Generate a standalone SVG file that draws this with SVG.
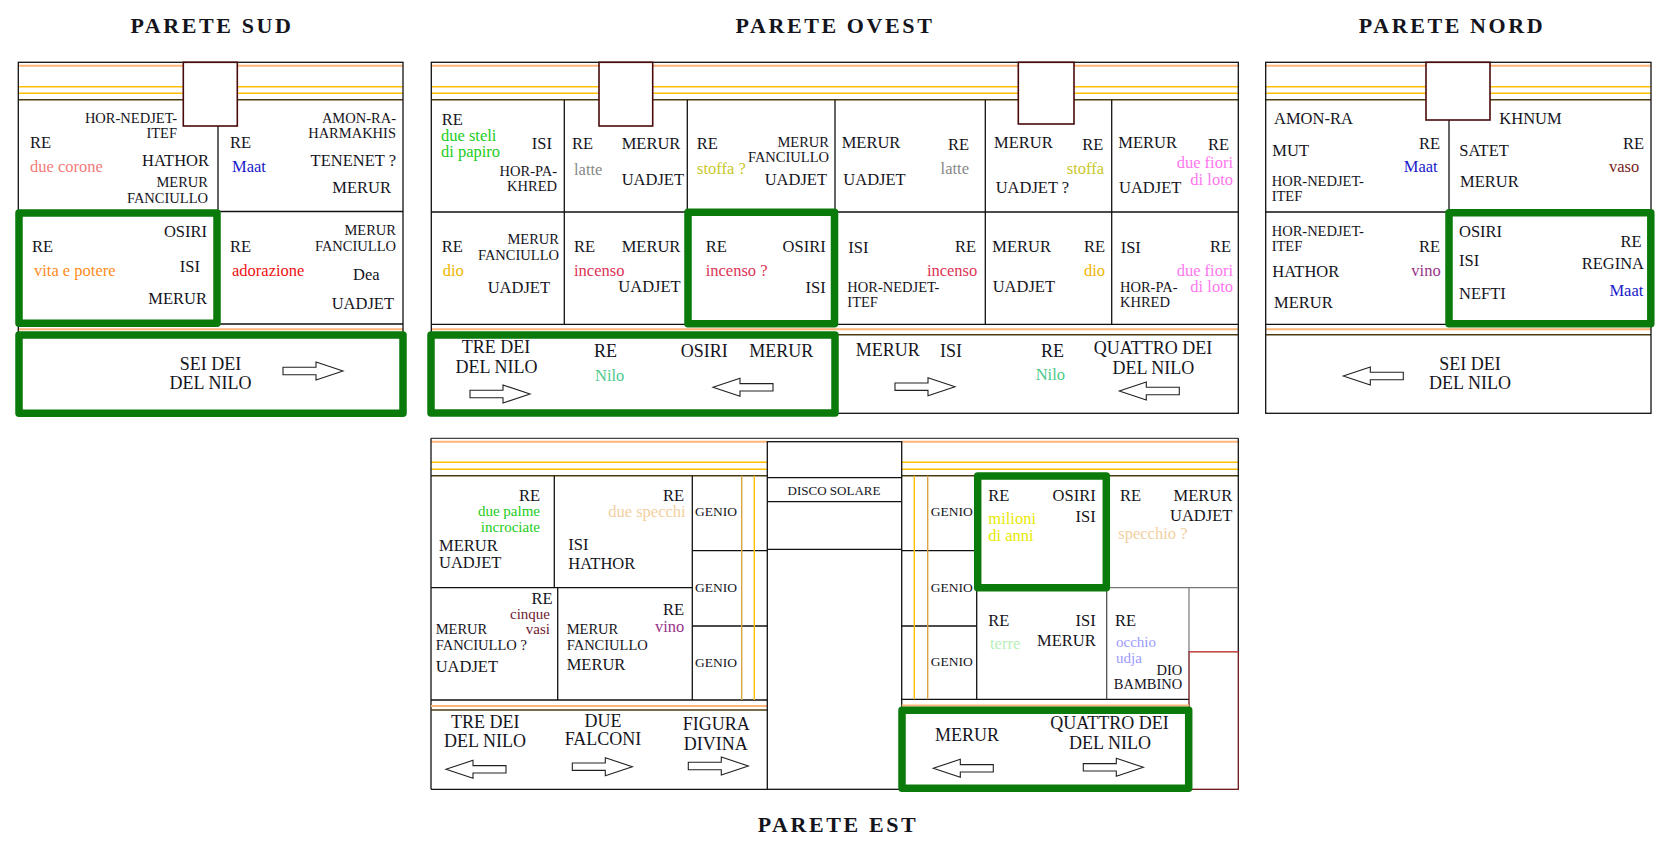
<svg xmlns="http://www.w3.org/2000/svg" width="1673" height="846" viewBox="0 0 1673 846">
<defs>
<style>
text{font-family:"Liberation Serif","Times New Roman",serif;fill:#14141c}
.t{font-size:16.5px}
.q{font-size:15px}
.s{font-size:14.5px}
.b{font-size:18px}
.g{font-size:13.5px}
.d{font-size:13px}
.ti{font-size:22px;font-weight:bold;letter-spacing:2.6px}
.e{text-anchor:end}
.m{text-anchor:middle}
.ln{stroke:#111;stroke-width:1.3;fill:none}
.lg{stroke:#777;stroke-width:1.2;fill:none}
.pk{stroke:#ffb577;stroke-width:2}
.gd{stroke:#ffbf00;stroke-width:1.4}
.gd2{stroke:#d9a441;stroke-width:1.4}
.dk{stroke:#4a3c10;stroke-width:1.6}
.cb{fill:#fff;stroke:#4a0a0a;stroke-width:1.6}
.gr{fill:none;stroke:#0a7a0a;stroke-width:7.5;stroke-linejoin:round}
.ar{fill:#fff;stroke:#222;stroke-width:1.1}
.c-pink{fill:#f37b7b}.c-blue{fill:#1a1acc}.c-org{fill:#ff8c1a}.c-red{fill:#ee1111}
.c-grn{fill:#22cc22}.c-gray{fill:#888}.c-ylw{fill:#c8c82a}.c-gold{fill:#f0b400}
.c-crim{fill:#dd3355}.c-vio{fill:#ff77ee}.c-vaso{fill:#772222}.c-vino{fill:#993388}
.c-peach{fill:#f3cfa0}.c-mar{fill:#702030}.c-yel{fill:#e8e800}.c-lgr{fill:#b8f0b8}
.c-lav{fill:#9a9aff}.c-nilo{fill:#4cc98a}
</style>
<path id="aR" d="M0,-3.7 H33 V-9 L60,0 L33,9 V3.7 H0 Z"/>
<path id="aL" d="M60,-3.7 H27 V-9 L0,0 L27,9 V3.7 H60 Z"/>
</defs>
<rect width="1673" height="846" fill="#fff"/>

<g id="titles">
<text class="ti m" x="212" y="33.3">PARETE SUD</text>
<text class="ti m" x="835" y="33.3">PARETE OVEST</text>
<text class="ti m" x="1452" y="33.3">PARETE NORD</text>
<text class="ti m" x="838" y="832.3">PARETE EST</text>
</g>

<!-- ================= PARETE SUD ================= -->
<g id="sud">
<g id="sud-frame">
<line class="pk" x1="18" y1="65.7" x2="403" y2="65.7"/>
<line class="gd" x1="18" y1="86.7" x2="403" y2="86.7"/>
<line class="gd" x1="18" y1="93.3" x2="403" y2="93.3"/>
<line class="dk" x1="18" y1="99.8" x2="403" y2="99.8"/>
<line class="pk" x1="18" y1="329.3" x2="403" y2="329.3"/>
<line class="dk" x1="18" y1="334.8" x2="403" y2="334.8"/>
<rect class="ln" x="18.3" y="62.3" width="384.7" height="351"/>
<line class="ln" x1="18" y1="211.5" x2="403" y2="211.5"/>
<line class="ln" x1="18" y1="324" x2="403" y2="324"/>
<line class="ln" x1="218" y1="126" x2="218" y2="324"/>
<rect class="cb" x="183.3" y="62.3" width="54" height="63.7"/>
</g>
<g id="sud-c1">
<text class="s e" x="177" y="122.7">HOR-NEDJET-</text>
<text class="s e" x="177" y="138">ITEF</text>
<text class="t" x="30" y="147.7">RE</text>
<text class="t c-pink" x="30" y="171.7">due corone</text>
<text class="t e" x="209" y="165.7">HATHOR</text>
<text class="s e" x="208" y="186.7">MERUR</text>
<text class="s e" x="208" y="202.7">FANCIULLO</text>
</g>
<g id="sud-c2">
<text class="t" x="230" y="147.7">RE</text>
<text class="t c-blue" x="232" y="171.7">Maat</text>
<text class="s e" x="396" y="122.7">AMON-RA-</text>
<text class="s e" x="396" y="138">HARMAKHIS</text>
<text class="t e" x="396" y="165.7">TENENET ?</text>
<text class="t e" x="391" y="193">MERUR</text>
</g>
<g id="sud-c3">
<rect class="gr" x="19" y="213" width="198" height="110.3"/>
<text class="t e" x="207" y="236.7">OSIRI</text>
<text class="t" x="32" y="252">RE</text>
<text class="t c-org" x="34" y="275.7">vita e potere</text>
<text class="t e" x="200" y="271.7">ISI</text>
<text class="t e" x="207" y="304">MERUR</text>
</g>
<g id="sud-c4">
<text class="s e" x="396" y="235">MERUR</text>
<text class="s e" x="396" y="250.7">FANCIULLO</text>
<text class="t" x="230" y="252">RE</text>
<text class="t c-red" x="232" y="275.7">adorazione</text>
<text class="t" x="353" y="280">Dea</text>
<text class="t e" x="394" y="309">UADJET</text>
</g>
<g id="sud-band">
<rect class="gr" x="19" y="335" width="384" height="78.3"/>
<text class="b m" x="210.5" y="370">SEI DEI</text>
<text class="b m" x="210.5" y="389">DEL NILO</text>
<use href="#aR" class="ar" x="283" y="371"/>
</g>
</g>

<!-- ================= PARETE OVEST ================= -->
<g id="ovest">
<g id="ovest-frame">
<line class="pk" x1="431" y1="65.7" x2="1238" y2="65.7"/>
<line class="gd" x1="431" y1="86.7" x2="1238" y2="86.7"/>
<line class="gd" x1="431" y1="93.3" x2="1238" y2="93.3"/>
<line class="dk" x1="431" y1="99.8" x2="1238" y2="99.8"/>
<line class="pk" x1="431" y1="329.3" x2="1238" y2="329.3"/>
<line class="dk" x1="431" y1="334.8" x2="1238" y2="334.8"/>
<rect class="ln" x="431.3" y="62.3" width="807" height="351"/>
<line class="ln" x1="431" y1="212" x2="1238" y2="212"/>
<line class="ln" x1="431" y1="324.3" x2="1238" y2="324.3"/>
<line class="ln" x1="564.3" y1="100" x2="564.3" y2="324.3"/>
<line class="ln" x1="687.3" y1="100" x2="687.3" y2="324.3"/>
<line class="ln" x1="835" y1="100" x2="835" y2="324.3"/>
<line class="ln" x1="985.3" y1="100" x2="985.3" y2="324.3"/>
<line class="ln" x1="1111.7" y1="100" x2="1111.7" y2="324.3"/>
<rect class="cb" x="599" y="62.3" width="53.7" height="63.7"/>
<rect class="cb" x="1018.3" y="62.3" width="55.7" height="61.7"/>
</g>
<g id="ovest-c1">
<text class="t" x="441.7" y="125">RE</text>
<text class="t c-grn" x="441" y="140.7">due steli</text>
<text class="t c-grn" x="441" y="157">di papiro</text>
<text class="t e" x="552" y="149">ISI</text>
<text class="s e" x="557" y="175.7">HOR-PA-</text>
<text class="s e" x="557" y="190.7">KHRED</text>
</g>
<g id="ovest-c2">
<text class="t" x="572" y="149">RE</text>
<text class="t" x="621.7" y="149">MERUR</text>
<text class="t c-gray" x="574" y="175">latte</text>
<text class="t" x="621.7" y="185">UADJET</text>
</g>
<g id="ovest-c3">
<text class="t" x="696.7" y="149">RE</text>
<text class="s e" x="829" y="146.7">MERUR</text>
<text class="s e" x="829" y="161.7">FANCIULLO</text>
<text class="t c-ylw" x="697" y="174.3">stoffa ?</text>
<text class="t e" x="827" y="185">UADJET</text>
</g>
<g id="ovest-c4">
<text class="t" x="841.7" y="148.3">MERUR</text>
<text class="t e" x="969" y="150">RE</text>
<text class="t c-gray e" x="969" y="174.3">latte</text>
<text class="t" x="843.3" y="185">UADJET</text>
</g>
<g id="ovest-c5">
<text class="t" x="994" y="148.3">MERUR</text>
<text class="t e" x="1103.3" y="150">RE</text>
<text class="t c-ylw e" x="1104" y="174.3">stoffa</text>
<text class="t" x="995.7" y="193.3">UADJET ?</text>
</g>
<g id="ovest-c6">
<text class="t" x="1118.3" y="148.3">MERUR</text>
<text class="t e" x="1229" y="150">RE</text>
<text class="t c-vio e" x="1233" y="168.3">due fiori</text>
<text class="t c-vio e" x="1233" y="185">di loto</text>
<text class="t" x="1119" y="193.3">UADJET</text>
</g>
<g id="ovest-c7">
<text class="t" x="441.7" y="252">RE</text>
<text class="s e" x="559" y="244">MERUR</text>
<text class="s e" x="559" y="260">FANCIULLO</text>
<text class="t c-gold" x="442.7" y="275.7">dio</text>
<text class="t e" x="550" y="292.7">UADJET</text>
</g>
<g id="ovest-c8">
<text class="t" x="574" y="252">RE</text>
<text class="t" x="621.7" y="252">MERUR</text>
<text class="t c-crim" x="574" y="275.7">incenso</text>
<text class="t e" x="680.7" y="291.7">UADJET</text>
</g>
<g id="ovest-c9">
<rect class="gr" x="688" y="212.3" width="146.5" height="111.4"/>
<text class="t" x="705.7" y="252">RE</text>
<text class="t e" x="825.7" y="251.7">OSIRI</text>
<text class="t c-crim" x="705.7" y="275.7">incenso ?</text>
<text class="t e" x="825.7" y="292.7">ISI</text>
</g>
<g id="ovest-c10">
<text class="t" x="848.3" y="253.3">ISI</text>
<text class="t e" x="976" y="252">RE</text>
<text class="t c-crim e" x="977.3" y="275.7">incenso</text>
<text class="s" x="847.3" y="291.7">HOR-NEDJET-</text>
<text class="s" x="847.3" y="307.3">ITEF</text>
</g>
<g id="ovest-c11">
<text class="t" x="992.3" y="252">MERUR</text>
<text class="t e" x="1105" y="252">RE</text>
<text class="t c-gold e" x="1105" y="275.7">dio</text>
<text class="t" x="992.7" y="291.7">UADJET</text>
</g>
<g id="ovest-c12">
<text class="t" x="1120.7" y="253.3">ISI</text>
<text class="t e" x="1231" y="252">RE</text>
<text class="t c-vio e" x="1233" y="275.7">due fiori</text>
<text class="t c-vio e" x="1233" y="291.7">di loto</text>
<text class="s" x="1120" y="291.7">HOR-PA-</text>
<text class="s" x="1120" y="307.3">KHRED</text>
</g>
<g id="ovest-band1">
<rect class="gr" x="431" y="335" width="404" height="78"/>
<text class="b m" x="496" y="353.3">TRE DEI</text>
<text class="b m" x="496.5" y="372.7">DEL NILO</text>
<use href="#aR" class="ar" x="470" y="394"/>
<text class="b" x="594" y="356.7">RE</text>
<text class="t c-nilo" x="595" y="380.7">Nilo</text>
<text class="b" x="680.7" y="356.7">OSIRI</text>
<text class="b" x="749.3" y="356.7">MERUR</text>
<use href="#aL" class="ar" x="713" y="387.3"/>
</g>
<g id="ovest-band2">
<text class="b" x="855.7" y="356">MERUR</text>
<text class="b" x="940" y="356.7">ISI</text>
<use href="#aR" class="ar" x="895" y="386.7"/>
<text class="b" x="1041" y="356.7">RE</text>
<text class="t c-nilo" x="1035.7" y="380">Nilo</text>
<text class="b m" x="1153" y="354">QUATTRO DEI</text>
<text class="b m" x="1153.3" y="374">DEL NILO</text>
<use href="#aL" class="ar" x="1119.3" y="391"/>
</g>
</g>

<!-- ================= PARETE NORD ================= -->
<g id="nord">
<g id="nord-frame">
<line class="pk" x1="1266" y1="65.7" x2="1651" y2="65.7"/>
<line class="gd" x1="1266" y1="86.7" x2="1651" y2="86.7"/>
<line class="gd" x1="1266" y1="93.3" x2="1651" y2="93.3"/>
<line class="dk" x1="1266" y1="99.8" x2="1651" y2="99.8"/>
<line class="pk" x1="1266" y1="329.3" x2="1651" y2="329.3"/>
<line class="dk" x1="1266" y1="334.8" x2="1651" y2="334.8"/>
<rect class="ln" x="1265.7" y="62.3" width="385.3" height="351"/>
<line class="ln" x1="1266" y1="212" x2="1651" y2="212"/>
<line class="ln" x1="1266" y1="324.3" x2="1449" y2="324.3"/>
<line class="ln" x1="1449" y1="120" x2="1449" y2="324.3"/>
<rect class="cb" x="1426" y="62.3" width="64" height="57.7"/>
</g>
<g id="nord-c1">
<text class="t" x="1274" y="124">AMON-RA</text>
<text class="t" x="1272.3" y="155.7">MUT</text>
<text class="t e" x="1440" y="149">RE</text>
<text class="t c-blue e" x="1437.7" y="171.7">Maat</text>
<text class="s" x="1271.7" y="185.7">HOR-NEDJET-</text>
<text class="s" x="1271.7" y="200.7">ITEF</text>
</g>
<g id="nord-c2">
<text class="t" x="1499.3" y="124">KHNUM</text>
<text class="t" x="1459.3" y="155.7">SATET</text>
<text class="t e" x="1644" y="149">RE</text>
<text class="t c-vaso e" x="1639.3" y="171.7">vaso</text>
<text class="t" x="1460" y="186.7">MERUR</text>
</g>
<g id="nord-c3">
<text class="s" x="1271.7" y="235.7">HOR-NEDJET-</text>
<text class="s" x="1271.7" y="250.7">ITEF</text>
<text class="t e" x="1440" y="252">RE</text>
<text class="t" x="1272.3" y="276.7">HATHOR</text>
<text class="t c-vino e" x="1440.7" y="275.7">vino</text>
<text class="t" x="1274" y="307.7">MERUR</text>
</g>
<g id="nord-c4">
<rect class="gr" x="1449" y="212.8" width="201.8" height="111"/>
<text class="t" x="1459" y="236.7">OSIRI</text>
<text class="t e" x="1641.7" y="246.7">RE</text>
<text class="t" x="1459" y="266">ISI</text>
<text class="t e" x="1644" y="269">REGINA</text>
<text class="t" x="1459" y="299">NEFTI</text>
<text class="t c-blue e" x="1643.3" y="295.7">Maat</text>
</g>
<g id="nord-band">
<text class="b m" x="1470" y="370">SEI DEI</text>
<text class="b m" x="1470" y="389.3">DEL NILO</text>
<use href="#aL" class="ar" x="1343.3" y="376"/>
</g>
</g>

<!-- ================= PARETE EST ================= -->
<g id="est">
<g id="est-frame">
<line x1="431" y1="438.3" x2="1238.3" y2="438.3" stroke="#444" stroke-width="1.2"/>
<line class="pk" x1="431" y1="441.7" x2="767.3" y2="441.7"/>
<line class="gd" x1="431" y1="462.3" x2="767.3" y2="462.3"/>
<line class="gd" x1="431" y1="469.3" x2="767.3" y2="469.3"/>
<line class="dk" x1="431" y1="475.7" x2="767.3" y2="475.7"/>
<line class="pk" x1="901.7" y1="441.7" x2="1238.3" y2="441.7"/>
<line class="gd" x1="901.7" y1="462.3" x2="1238.3" y2="462.3"/>
<line class="gd" x1="901.7" y1="469.3" x2="1238.3" y2="469.3"/>
<line class="dk" x1="901.7" y1="475.7" x2="1238.3" y2="475.7"/>
<line class="ln" x1="431" y1="438.3" x2="431" y2="789.3"/>
<line class="ln" x1="431" y1="587.7" x2="692.3" y2="587.7"/>
<line class="ln" x1="431" y1="700" x2="767.3" y2="700"/>
<line class="ln" x1="554.3" y1="475.7" x2="554.3" y2="587.7"/>
<line class="ln" x1="557.7" y1="587.7" x2="557.7" y2="700"/>
<line class="ln" x1="692.3" y1="475.7" x2="692.3" y2="700"/>
<line class="ln" x1="692.3" y1="550.7" x2="767.3" y2="550.7"/>
<line class="ln" x1="692.3" y1="626" x2="767.3" y2="626"/>
<line class="gd2" x1="741.7" y1="475.7" x2="741.7" y2="700"/>
<line class="gd" x1="754.3" y1="475.7" x2="754.3" y2="700"/>
<line class="pk" x1="431" y1="706" x2="767.3" y2="706"/>
<line class="dk" x1="431" y1="710" x2="767.3" y2="710"/>
<line class="ln" x1="431" y1="789.3" x2="767.3" y2="789.3"/>
<rect class="ln" x="767.3" y="441.7" width="134.4" height="347.6"/>
<line class="ln" x1="767.3" y1="477.7" x2="901.7" y2="477.7"/>
<line class="ln" x1="767.3" y1="501.7" x2="901.7" y2="501.7"/>
<line class="ln" x1="767.3" y1="549.3" x2="901.7" y2="549.3"/>
<line class="ln" x1="1238.3" y1="438.3" x2="1238.3" y2="651.7"/>
<line class="ln" x1="901.7" y1="550.7" x2="976.7" y2="550.7"/>
<line class="ln" x1="901.7" y1="626" x2="976.7" y2="626"/>
<line class="ln" x1="901.7" y1="699.3" x2="1189" y2="699.3"/>
<line class="gd" x1="914.3" y1="475.7" x2="914.3" y2="699.3"/>
<line class="gd2" x1="927.7" y1="475.7" x2="927.7" y2="699.3"/>
<line class="ln" x1="976.7" y1="475.7" x2="976.7" y2="699.3"/>
<line class="lg" x1="1106" y1="587.7" x2="1238.3" y2="587.7"/>
<line class="ln" x1="976.7" y1="587.7" x2="1106.7" y2="587.7"/>
<line x1="1106.7" y1="587.7" x2="1106.7" y2="699.3" stroke="#444" stroke-width="1.2"/>
<line class="lg" x1="1189" y1="587.7" x2="1189" y2="651.7"/>
<rect x="1189" y="651.7" width="49.3" height="137.6" fill="none" stroke="#6a1515" stroke-width="1.3"/>
<line x1="1189" y1="651.7" x2="1238.3" y2="651.7" stroke="#d04848" stroke-width="1.3"/>
<line class="pk" x1="901.7" y1="705.5" x2="1189" y2="705.5"/>
</g>
<g id="est-a1">
<text class="t e" x="540" y="500.7">RE</text>
<text class="q c-grn e" x="540" y="516">due palme</text>
<text class="q c-grn e" x="540" y="531.7">incrociate</text>
<text class="t" x="439" y="551">MERUR</text>
<text class="t" x="439" y="568.3">UADJET</text>
</g>
<g id="est-a2">
<text class="t e" x="684" y="500.7">RE</text>
<text class="t c-peach e" x="685.7" y="517.3">due specchi</text>
<text class="t" x="568.3" y="550">ISI</text>
<text class="t" x="568.3" y="569.3">HATHOR</text>
</g>
<g id="est-genio-l">
<text class="g" x="695" y="515.7">GENIO</text>
<text class="g" x="695" y="591.7">GENIO</text>
<text class="g" x="695" y="667.3">GENIO</text>
</g>
<g id="est-b1">
<text class="t e" x="552.7" y="603.5">RE</text>
<text class="q c-mar e" x="550" y="618.5">cinque</text>
<text class="q c-mar e" x="550" y="634">vasi</text>
<text class="s" x="435.7" y="634">MERUR</text>
<text class="s" x="435.7" y="650">FANCIULLO ?</text>
<text class="t" x="435.7" y="672.3">UADJET</text>
</g>
<g id="est-b2">
<text class="t e" x="684" y="615">RE</text>
<text class="t c-vino e" x="684.3" y="632.3">vino</text>
<text class="s" x="566.7" y="634">MERUR</text>
<text class="s" x="566.7" y="650">FANCIULLO</text>
<text class="t" x="566.7" y="670">MERUR</text>
</g>
<g id="est-band-l">
<text class="b m" x="485.3" y="727.7">TRE DEI</text>
<text class="b m" x="485" y="747.3">DEL NILO</text>
<use href="#aL" class="ar" x="446" y="769.3"/>
<text class="b m" x="603" y="726.7">DUE</text>
<text class="b m" x="603" y="745">FALCONI</text>
<use href="#aR" class="ar" x="572.3" y="766.7"/>
<text class="b m" x="716.2" y="730">FIGURA</text>
<text class="b m" x="715.8" y="750">DIVINA</text>
<use href="#aR" class="ar" x="688.3" y="766"/>
</g>
<g id="est-disco">
<text class="d m" x="834" y="495">DISCO SOLARE</text>
</g>
<g id="est-genio-r">
<text class="g" x="930.7" y="515.7">GENIO</text>
<text class="g" x="930.7" y="592.3">GENIO</text>
<text class="g" x="930.7" y="665.7">GENIO</text>
</g>
<g id="est-c1">
<rect class="gr" x="977.7" y="476" width="128.6" height="111.7"/>
<text class="t" x="988.3" y="500.7">RE</text>
<text class="t e" x="1095.7" y="500.7">OSIRI</text>
<text class="t c-yel" x="988.3" y="524.3">milioni</text>
<text class="t c-yel" x="988.3" y="540.7">di anni</text>
<text class="t e" x="1095.7" y="521.7">ISI</text>
</g>
<g id="est-c2">
<text class="t" x="1120" y="500.7">RE</text>
<text class="t e" x="1232.3" y="500.7">MERUR</text>
<text class="t e" x="1232.3" y="520.7">UADJET</text>
<text class="t c-peach" x="1118.3" y="539">specchio ?</text>
</g>
<g id="est-c3">
<text class="t" x="988.3" y="625.7">RE</text>
<text class="t e" x="1095.7" y="625.7">ISI</text>
<text class="t c-lgr" x="990" y="649">terre</text>
<text class="t e" x="1095.7" y="645.7">MERUR</text>
</g>
<g id="est-c4">
<text class="t" x="1115" y="625.7">RE</text>
<text class="q c-lav" x="1116" y="646.5">occhio</text>
<text class="q c-lav" x="1116" y="662.5">udja</text>
<text class="s e" x="1182.3" y="674.5">DIO</text>
<text class="s e" x="1182.3" y="689">BAMBINO</text>
</g>
<g id="est-band-r">
<rect class="gr" x="902" y="710.3" width="286.7" height="78"/>
<text class="b" x="935" y="740.7">MERUR</text>
<text class="b m" x="1109.5" y="729">QUATTRO DEI</text>
<text class="b m" x="1110" y="749">DEL NILO</text>
<use href="#aL" class="ar" x="933.3" y="768.3"/>
<use href="#aR" class="ar" x="1083.3" y="767.3"/>
</g>
</g>
<g id="connectors"/>
</svg>
